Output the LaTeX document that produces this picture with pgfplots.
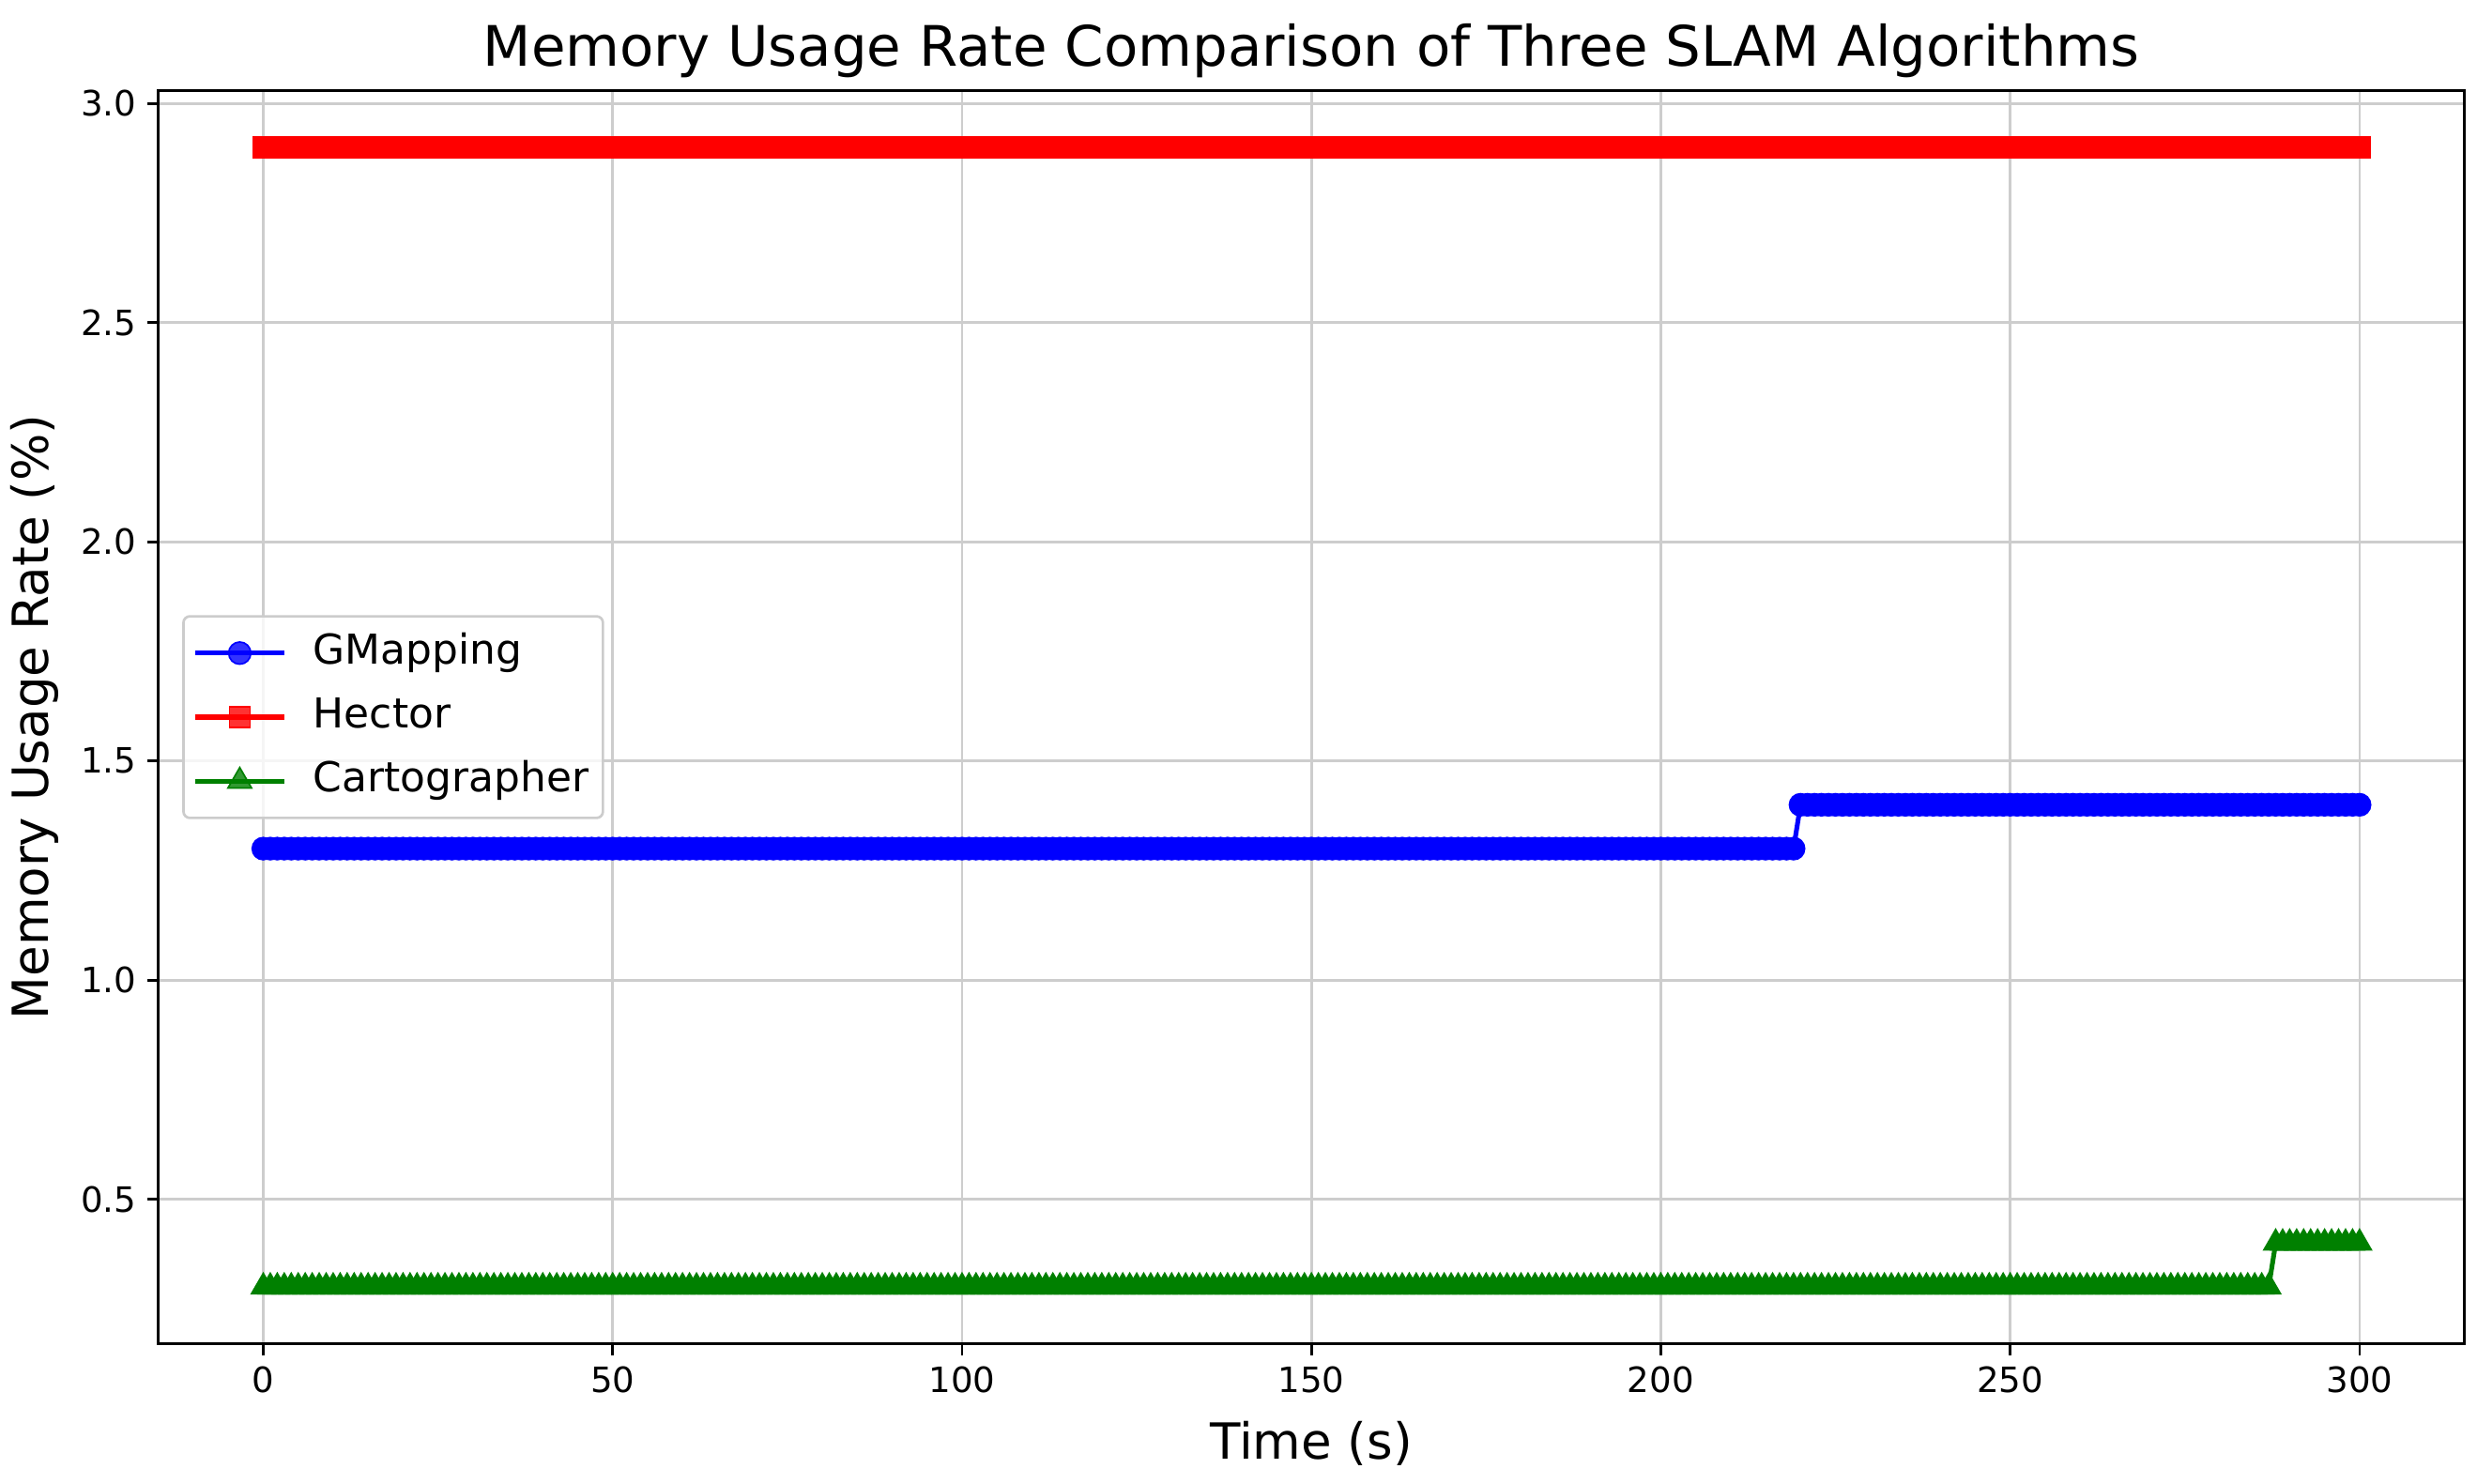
\documentclass[border=0pt]{standalone}
\usepackage{fontspec}
\setmainfont{DejaVu Sans}
\usepackage{pgfplots}
\usepackage{pgfplotstable}
\pgfplotsset{compat=1.18}
\usetikzlibrary{calc}

\definecolor{mplgreen}{RGB}{0,128,0}
\definecolor{gridgray}{RGB}{205,205,205}

% t (s), GMapping, Hector, Cartographer (memory usage %)
\pgfplotstableread[row sep=\\]{
t g h c\\
0 1.3 2.9 0.3\\ 1 1.3 2.9 0.3\\ 2 1.3 2.9 0.3\\ 3 1.3 2.9 0.3\\ 4 1.3 2.9 0.3\\ 5 1.3 2.9 0.3\\ 6 1.3 2.9 0.3\\ 7 1.3 2.9 0.3\\ 8 1.3 2.9 0.3\\ 9 1.3 2.9 0.3\\
10 1.3 2.9 0.3\\ 11 1.3 2.9 0.3\\ 12 1.3 2.9 0.3\\ 13 1.3 2.9 0.3\\ 14 1.3 2.9 0.3\\ 15 1.3 2.9 0.3\\ 16 1.3 2.9 0.3\\ 17 1.3 2.9 0.3\\ 18 1.3 2.9 0.3\\ 19 1.3 2.9 0.3\\
20 1.3 2.9 0.3\\ 21 1.3 2.9 0.3\\ 22 1.3 2.9 0.3\\ 23 1.3 2.9 0.3\\ 24 1.3 2.9 0.3\\ 25 1.3 2.9 0.3\\ 26 1.3 2.9 0.3\\ 27 1.3 2.9 0.3\\ 28 1.3 2.9 0.3\\ 29 1.3 2.9 0.3\\
30 1.3 2.9 0.3\\ 31 1.3 2.9 0.3\\ 32 1.3 2.9 0.3\\ 33 1.3 2.9 0.3\\ 34 1.3 2.9 0.3\\ 35 1.3 2.9 0.3\\ 36 1.3 2.9 0.3\\ 37 1.3 2.9 0.3\\ 38 1.3 2.9 0.3\\ 39 1.3 2.9 0.3\\
40 1.3 2.9 0.3\\ 41 1.3 2.9 0.3\\ 42 1.3 2.9 0.3\\ 43 1.3 2.9 0.3\\ 44 1.3 2.9 0.3\\ 45 1.3 2.9 0.3\\ 46 1.3 2.9 0.3\\ 47 1.3 2.9 0.3\\ 48 1.3 2.9 0.3\\ 49 1.3 2.9 0.3\\
50 1.3 2.9 0.3\\ 51 1.3 2.9 0.3\\ 52 1.3 2.9 0.3\\ 53 1.3 2.9 0.3\\ 54 1.3 2.9 0.3\\ 55 1.3 2.9 0.3\\ 56 1.3 2.9 0.3\\ 57 1.3 2.9 0.3\\ 58 1.3 2.9 0.3\\ 59 1.3 2.9 0.3\\
60 1.3 2.9 0.3\\ 61 1.3 2.9 0.3\\ 62 1.3 2.9 0.3\\ 63 1.3 2.9 0.3\\ 64 1.3 2.9 0.3\\ 65 1.3 2.9 0.3\\ 66 1.3 2.9 0.3\\ 67 1.3 2.9 0.3\\ 68 1.3 2.9 0.3\\ 69 1.3 2.9 0.3\\
70 1.3 2.9 0.3\\ 71 1.3 2.9 0.3\\ 72 1.3 2.9 0.3\\ 73 1.3 2.9 0.3\\ 74 1.3 2.9 0.3\\ 75 1.3 2.9 0.3\\ 76 1.3 2.9 0.3\\ 77 1.3 2.9 0.3\\ 78 1.3 2.9 0.3\\ 79 1.3 2.9 0.3\\
80 1.3 2.9 0.3\\ 81 1.3 2.9 0.3\\ 82 1.3 2.9 0.3\\ 83 1.3 2.9 0.3\\ 84 1.3 2.9 0.3\\ 85 1.3 2.9 0.3\\ 86 1.3 2.9 0.3\\ 87 1.3 2.9 0.3\\ 88 1.3 2.9 0.3\\ 89 1.3 2.9 0.3\\
90 1.3 2.9 0.3\\ 91 1.3 2.9 0.3\\ 92 1.3 2.9 0.3\\ 93 1.3 2.9 0.3\\ 94 1.3 2.9 0.3\\ 95 1.3 2.9 0.3\\ 96 1.3 2.9 0.3\\ 97 1.3 2.9 0.3\\ 98 1.3 2.9 0.3\\ 99 1.3 2.9 0.3\\
100 1.3 2.9 0.3\\ 101 1.3 2.9 0.3\\ 102 1.3 2.9 0.3\\ 103 1.3 2.9 0.3\\ 104 1.3 2.9 0.3\\ 105 1.3 2.9 0.3\\ 106 1.3 2.9 0.3\\ 107 1.3 2.9 0.3\\ 108 1.3 2.9 0.3\\ 109 1.3 2.9 0.3\\
110 1.3 2.9 0.3\\ 111 1.3 2.9 0.3\\ 112 1.3 2.9 0.3\\ 113 1.3 2.9 0.3\\ 114 1.3 2.9 0.3\\ 115 1.3 2.9 0.3\\ 116 1.3 2.9 0.3\\ 117 1.3 2.9 0.3\\ 118 1.3 2.9 0.3\\ 119 1.3 2.9 0.3\\
120 1.3 2.9 0.3\\ 121 1.3 2.9 0.3\\ 122 1.3 2.9 0.3\\ 123 1.3 2.9 0.3\\ 124 1.3 2.9 0.3\\ 125 1.3 2.9 0.3\\ 126 1.3 2.9 0.3\\ 127 1.3 2.9 0.3\\ 128 1.3 2.9 0.3\\ 129 1.3 2.9 0.3\\
130 1.3 2.9 0.3\\ 131 1.3 2.9 0.3\\ 132 1.3 2.9 0.3\\ 133 1.3 2.9 0.3\\ 134 1.3 2.9 0.3\\ 135 1.3 2.9 0.3\\ 136 1.3 2.9 0.3\\ 137 1.3 2.9 0.3\\ 138 1.3 2.9 0.3\\ 139 1.3 2.9 0.3\\
140 1.3 2.9 0.3\\ 141 1.3 2.9 0.3\\ 142 1.3 2.9 0.3\\ 143 1.3 2.9 0.3\\ 144 1.3 2.9 0.3\\ 145 1.3 2.9 0.3\\ 146 1.3 2.9 0.3\\ 147 1.3 2.9 0.3\\ 148 1.3 2.9 0.3\\ 149 1.3 2.9 0.3\\
150 1.3 2.9 0.3\\ 151 1.3 2.9 0.3\\ 152 1.3 2.9 0.3\\ 153 1.3 2.9 0.3\\ 154 1.3 2.9 0.3\\ 155 1.3 2.9 0.3\\ 156 1.3 2.9 0.3\\ 157 1.3 2.9 0.3\\ 158 1.3 2.9 0.3\\ 159 1.3 2.9 0.3\\
160 1.3 2.9 0.3\\ 161 1.3 2.9 0.3\\ 162 1.3 2.9 0.3\\ 163 1.3 2.9 0.3\\ 164 1.3 2.9 0.3\\ 165 1.3 2.9 0.3\\ 166 1.3 2.9 0.3\\ 167 1.3 2.9 0.3\\ 168 1.3 2.9 0.3\\ 169 1.3 2.9 0.3\\
170 1.3 2.9 0.3\\ 171 1.3 2.9 0.3\\ 172 1.3 2.9 0.3\\ 173 1.3 2.9 0.3\\ 174 1.3 2.9 0.3\\ 175 1.3 2.9 0.3\\ 176 1.3 2.9 0.3\\ 177 1.3 2.9 0.3\\ 178 1.3 2.9 0.3\\ 179 1.3 2.9 0.3\\
180 1.3 2.9 0.3\\ 181 1.3 2.9 0.3\\ 182 1.3 2.9 0.3\\ 183 1.3 2.9 0.3\\ 184 1.3 2.9 0.3\\ 185 1.3 2.9 0.3\\ 186 1.3 2.9 0.3\\ 187 1.3 2.9 0.3\\ 188 1.3 2.9 0.3\\ 189 1.3 2.9 0.3\\
190 1.3 2.9 0.3\\ 191 1.3 2.9 0.3\\ 192 1.3 2.9 0.3\\ 193 1.3 2.9 0.3\\ 194 1.3 2.9 0.3\\ 195 1.3 2.9 0.3\\ 196 1.3 2.9 0.3\\ 197 1.3 2.9 0.3\\ 198 1.3 2.9 0.3\\ 199 1.3 2.9 0.3\\
200 1.3 2.9 0.3\\ 201 1.3 2.9 0.3\\ 202 1.3 2.9 0.3\\ 203 1.3 2.9 0.3\\ 204 1.3 2.9 0.3\\ 205 1.3 2.9 0.3\\ 206 1.3 2.9 0.3\\ 207 1.3 2.9 0.3\\ 208 1.3 2.9 0.3\\ 209 1.3 2.9 0.3\\
210 1.3 2.9 0.3\\ 211 1.3 2.9 0.3\\ 212 1.3 2.9 0.3\\ 213 1.3 2.9 0.3\\ 214 1.3 2.9 0.3\\ 215 1.3 2.9 0.3\\ 216 1.3 2.9 0.3\\ 217 1.3 2.9 0.3\\ 218 1.3 2.9 0.3\\ 219 1.3 2.9 0.3\\
220 1.4 2.9 0.3\\ 221 1.4 2.9 0.3\\ 222 1.4 2.9 0.3\\ 223 1.4 2.9 0.3\\ 224 1.4 2.9 0.3\\ 225 1.4 2.9 0.3\\ 226 1.4 2.9 0.3\\ 227 1.4 2.9 0.3\\ 228 1.4 2.9 0.3\\ 229 1.4 2.9 0.3\\
230 1.4 2.9 0.3\\ 231 1.4 2.9 0.3\\ 232 1.4 2.9 0.3\\ 233 1.4 2.9 0.3\\ 234 1.4 2.9 0.3\\ 235 1.4 2.9 0.3\\ 236 1.4 2.9 0.3\\ 237 1.4 2.9 0.3\\ 238 1.4 2.9 0.3\\ 239 1.4 2.9 0.3\\
240 1.4 2.9 0.3\\ 241 1.4 2.9 0.3\\ 242 1.4 2.9 0.3\\ 243 1.4 2.9 0.3\\ 244 1.4 2.9 0.3\\ 245 1.4 2.9 0.3\\ 246 1.4 2.9 0.3\\ 247 1.4 2.9 0.3\\ 248 1.4 2.9 0.3\\ 249 1.4 2.9 0.3\\
250 1.4 2.9 0.3\\ 251 1.4 2.9 0.3\\ 252 1.4 2.9 0.3\\ 253 1.4 2.9 0.3\\ 254 1.4 2.9 0.3\\ 255 1.4 2.9 0.3\\ 256 1.4 2.9 0.3\\ 257 1.4 2.9 0.3\\ 258 1.4 2.9 0.3\\ 259 1.4 2.9 0.3\\
260 1.4 2.9 0.3\\ 261 1.4 2.9 0.3\\ 262 1.4 2.9 0.3\\ 263 1.4 2.9 0.3\\ 264 1.4 2.9 0.3\\ 265 1.4 2.9 0.3\\ 266 1.4 2.9 0.3\\ 267 1.4 2.9 0.3\\ 268 1.4 2.9 0.3\\ 269 1.4 2.9 0.3\\
270 1.4 2.9 0.3\\ 271 1.4 2.9 0.3\\ 272 1.4 2.9 0.3\\ 273 1.4 2.9 0.3\\ 274 1.4 2.9 0.3\\ 275 1.4 2.9 0.3\\ 276 1.4 2.9 0.3\\ 277 1.4 2.9 0.3\\ 278 1.4 2.9 0.3\\ 279 1.4 2.9 0.3\\
280 1.4 2.9 0.3\\ 281 1.4 2.9 0.3\\ 282 1.4 2.9 0.3\\ 283 1.4 2.9 0.3\\ 284 1.4 2.9 0.3\\ 285 1.4 2.9 0.3\\ 286 1.4 2.9 0.3\\ 287 1.4 2.9 0.3\\ 288 1.4 2.9 0.4\\ 289 1.4 2.9 0.4\\
290 1.4 2.9 0.4\\ 291 1.4 2.9 0.4\\ 292 1.4 2.9 0.4\\ 293 1.4 2.9 0.4\\ 294 1.4 2.9 0.4\\ 295 1.4 2.9 0.4\\ 296 1.4 2.9 0.4\\ 297 1.4 2.9 0.4\\ 298 1.4 2.9 0.4\\ 299 1.4 2.9 0.4\\
300 1.4 2.9 0.4\\
}\memdata

\begin{document}
\begin{tikzpicture}
\begin{axis}[
    scale only axis,
    width=727.5pt, height=395.5pt,
    xmin=-15, xmax=315,
    ymin=0.17, ymax=3.03,
    xtick={0,50,100,150,200,250,300},
    ytick={0.5,1,1.5,2,2.5,3},
    yticklabel style={/pgf/number format/.cd, fixed, fixed zerofill, precision=1},
    /pgf/number format/assume math mode=true,
    tick label style={font=\fontsize{11}{13}\selectfont},
    tick align=outside,
    xtick pos=bottom, ytick pos=left,
    major tick length=3.5pt,
    tick style={black, line width=0.8pt},
    axis line style={black, line width=0.8pt},
    grid=major,
    major grid style={gridgray, line width=0.8pt},
    title={Memory Usage Rate Comparison of Three SLAM Algorithms},
    title style={font=\fontsize{17.6}{21}\selectfont, yshift=-5.5pt},
    xlabel={Time (s)},
    ylabel={Memory Usage Rate (\%)},
    xlabel style={font=\fontsize{15.7}{19}\selectfont, at={(axis description cs:0.5,-0.0796)}, anchor=center},
    ylabel style={font=\fontsize{15.7}{19}\selectfont, at={(axis description cs:-0.0536,0.5)}, anchor=center},
    legend style={
        at={(axis description cs:0.0103,0.5)}, anchor=west,
        draw=black!20, line width=0.8pt, rounded corners=2pt,
        fill=white, fill opacity=0.8, text opacity=1,
        font=\fontsize{13}{16}\selectfont,
        inner xsep=3pt, inner ysep=3.5pt, row sep=4pt,
        nodes={inner sep=1.5pt, text height=10pt, text depth=3.2pt},
        /tikz/every odd column/.style={column sep=7pt},
    },
    legend cell align=left,
    legend image code/.code={
        \draw[mark repeat=2, mark phase=2] plot coordinates {(0pt,0pt) (14pt,0pt) (28pt,0pt)};
    },
]
\addplot[blue, line width=1.5pt, mark=*, mark size=3.5pt, mark options={solid, line width=0.5pt}] table[x=t, y=g] {\memdata};
\addplot[red, line width=1.5pt, mark=square*, mark size=3.25pt, mark options={solid, line width=0.5pt}] table[x=t, y=h] {\memdata};
\addplot[mplgreen, line width=1.5pt, mark=triangle*, mark size=4.3pt, mark options={solid, line width=0.5pt}] table[x=t, y=c] {\memdata};
\legend{GMapping, Hector, Cartographer}
\end{axis}
\pgfresetboundingbox
\path[use as bounding box] ($(current axis.south west)+(-50pt,-44pt)$) rectangle ($(current axis.north east)+(4pt,28.5pt)$);
\end{tikzpicture}
\end{document}
